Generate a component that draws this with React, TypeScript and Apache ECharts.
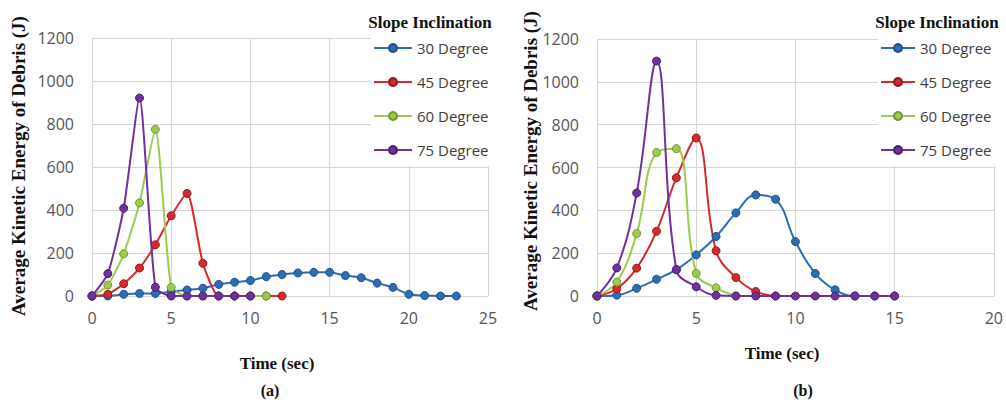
import React, { useEffect, useRef } from "react";
import * as echarts from "echarts";

// ---- Data (a) ----
const SERIES_NAMES = ["30 Degree", "45 Degree", "60 Degree", "75 Degree"];
const A_30 = [0, 0, 8, 12, 12, 20, 28, 36, 54, 64, 72, 90, 100, 107, 110, 110, 95, 85, 60, 40, 8, 2, 0, 0];
const A_45 = [0, 8, 57, 130, 238, 373, 477, 152, 0, 0, 0, 0, 0];
const A_60 = [0, 51, 196, 433, 775, 40, 0, 0, 0, 0, 0, 0];
const A_75 = [0, 104, 408, 921, 41, 0, 0, 0, 0, 0, 0];

// ---- Data (b) ----
const B_30 = [0, 4, 36, 78, 123, 192, 278, 388, 472, 452, 254, 105, 29, 0, 0, 0];
const B_45 = [0, 34, 130, 302, 552, 738, 211, 86, 21, 0];
const B_60 = [0, 65, 292, 670, 688, 106, 38, 0];
const B_75 = [0, 131, 481, 1097, 123, 43, 3, 0, 0, 0, 0, 0, 0, 0, 0, 0];

const Y_TICKS_MAX = 1200;
const A_X_MAX = 25;
const B_X_MAX = 20;

const COLORS = ["#2E6DB6", "#D42A2A", "#9CCB4E", "#7030A0"];
const BORDERS = ["#1F4E8C", "#8E1B1B", "#6E9A2E", "#4B1E70"];

const SANS = "'Open Sans', 'Liberation Sans', sans-serif";
const SERIF = "'Liberation Serif', 'DejaVu Serif', serif";

function mk(name: string, vals: number[], idx: number, k: number, smooth: number) {
  return {
    type: "line",
    name,
    xAxisIndex: k,
    yAxisIndex: k,
    data: vals.map((v, i) => [i, v]),
    smooth,
    symbol: "circle",
    symbolSize: 8,
    lineStyle: { color: COLORS[idx], width: 2 },
    itemStyle: { color: COLORS[idx], borderColor: BORDERS[idx], borderWidth: 1 },
  };
}

export default function App() {
  const ref = useRef<HTMLDivElement>(null);
  useEffect(() => {
    document.body.style.margin = "0";
    const chart = echarts.init(ref.current!, null, { renderer: "svg" });
    const gridLine = { show: true, lineStyle: { color: "#D6D6D6", width: 1 } };
    const axisLabel = { color: "#555", fontFamily: SANS, fontSize: 16, formatter: (v: number) => String(v) };
    const xAxis = (max: number, k: number) => ({
      type: "value",
      gridIndex: k,
      min: 0,
      max,
      interval: 5,
      axisLine: { show: true, lineStyle: { color: "#D6D6D6" } },
      axisTick: { show: false },
      splitLine: gridLine,
      axisLabel: { ...axisLabel, margin: 14 },
    });
    const yAxis = (k: number) => ({
      type: "value",
      gridIndex: k,
      min: 0,
      max: Y_TICKS_MAX,
      interval: 200,
      axisLine: { show: false },
      axisTick: { show: false },
      splitLine: gridLine,
      axisLabel: { ...axisLabel, margin: 18 },
    });
    const legend = (left: number, itemWidth: number) => ({
      left,
      top: 38,
      orient: "vertical",
      itemWidth,
      itemHeight: 10,
      itemGap: 18,
      backgroundColor: "#fff",
      padding: [2, 6, 8, 2],
      textStyle: { fontFamily: SANS, fontSize: 15, color: "#404040", lineHeight: 16 },
      data: SERIES_NAMES,
    });
    const title = (text: string, x: number, y: number, size: number, rot = 0) => ({
      type: "text",
      x,
      y,
      rotation: rot,
      style: {
        text,
        fontFamily: SERIF,
        fontWeight: "bold",
        fontSize: size,
        fill: "#111",
        align: "center",
        verticalAlign: "middle",
      },
    });
    chart.setOption({
      animation: false,
      backgroundColor: "#fff",
      grid: [
        { left: 92, top: 38, width: 396, height: 258 },
        { left: 597, top: 39, width: 398, height: 257 },
      ],
      xAxis: [xAxis(A_X_MAX, 0), xAxis(B_X_MAX, 1)],
      yAxis: [yAxis(0), yAxis(1)],
      legend: [legend(371, 38), legend(878, 34)],
      series: [
        mk(SERIES_NAMES[0], A_30, 0, 0, 0.2),
        mk(SERIES_NAMES[1], A_45, 1, 0, 0.2),
        mk(SERIES_NAMES[2], A_60, 2, 0, 0.2),
        mk(SERIES_NAMES[3], A_75, 3, 0, 0.2),
        mk(SERIES_NAMES[0], B_30, 0, 1, 0.4),
        mk(SERIES_NAMES[1], B_45, 1, 1, 0.4),
        mk(SERIES_NAMES[2], B_60, 2, 1, 0.4),
        mk(SERIES_NAMES[3], B_75, 3, 1, 0.4),
      ],
      graphic: [
        title("Slope Inclination", 430, 22, 17),
        title("Slope Inclination", 937, 22, 17),
        title("Average Kinetic Energy of Debris (J)", 18, 166, 19, Math.PI / 2),
        title("Average Kinetic Energy of Debris (J)", 530, 161, 19, Math.PI / 2),
        title("Time (sec)", 277, 363, 17),
        title("Time (sec)", 782, 353, 17),
        title("(a)", 270, 390, 16),
        title("(b)", 803, 390, 16),
      ],
    });
    return () => chart.dispose();
  }, []);
  return <div ref={ref} style={{ width: 1006, height: 403 }} />;
}
